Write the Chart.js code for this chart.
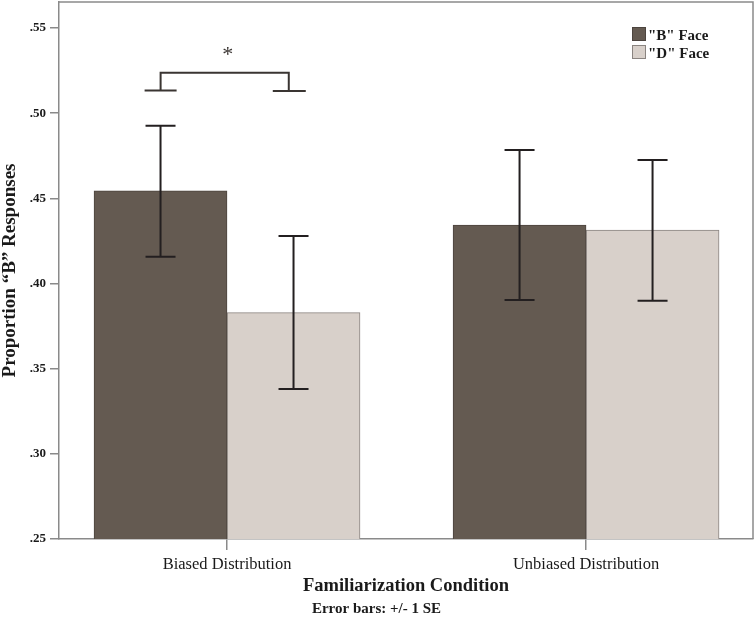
<!DOCTYPE html>
<html>
<head>
<meta charset="utf-8">
<title>Proportion "B" Responses</title>
<script src="https://cdn.jsdelivr.net/npm/chart.js@4.4.1/dist/chart.umd.min.js"></script>
<style>
    html, body { margin: 0; padding: 0; background: #ffffff; }
    #wrap { width: 755px; height: 617px; position: relative; }
</style>
</head>
<body>
<div id="wrap"><canvas id="faceChart"></canvas></div>
<script>
/* ==========================================================================
   FAMILIARIZATION CONDITION — "B" RESPONSES BAR CHART
   ========================================================================== */

// --- DATA ---
const categories = ['Biased Distribution', 'Unbiased Distribution'];
const categoryPos = [1, 2];
const seriesNames = ['"B" Face', '"D" Face'];

const bFaceMean = [0.4545, 0.4343];
const bFaceLow = [0.4157, 0.3903];
const bFaceHigh = [0.4926, 0.4784];

const dFaceMean = [0.3829, 0.4314];
const dFaceLow = [0.3381, 0.3899];
const dFaceHigh = [0.4279, 0.4725];

const yTicks = [0.25, 0.30, 0.35, 0.40, 0.45, 0.50, 0.55];

// significance bracket between the two Biased bars
const bracketX = [0.815, 1.172];
const bracketTop = 0.5238;
const bracketFeet = [0.5134, 0.5130];
const starX = 1.002;
const starY = 0.5339;

const COLORS = {
    bFace: '#645a51',
    dFace: '#d8d0ca',
    bEdge: '#4c443e',
    dEdge: '#8a8480',
    axis: '#8a8a8a',
    ink: '#231f20',
    text: '#1a1a1a'
};
const SERIF = '"Liberation Serif", "Times New Roman", serif';

// --- PLUGINS ---
const frameBox = {
    id: 'frameBox',
    afterDraw(chart) {
        const { ctx, chartArea: a } = chart;
        ctx.save();
        ctx.strokeStyle = COLORS.axis;
        ctx.lineWidth = 1.5;
        ctx.beginPath();
        ctx.moveTo(a.left, a.top);
        ctx.lineTo(a.right, a.top);
        ctx.lineTo(a.right, a.bottom);
        ctx.stroke();
        ctx.restore();
    }
};

const errorBars = {
    id: 'errorBars',
    afterDatasetsDraw(chart) {
        const { ctx } = chart;
        const y = chart.scales.y;
        const bounds = [[bFaceLow, bFaceHigh], [dFaceLow, dFaceHigh]];
        ctx.save();
        ctx.strokeStyle = COLORS.ink;
        ctx.lineWidth = 2;
        chart.data.datasets.forEach(function (ds, di) {
            chart.getDatasetMeta(di).data.forEach(function (bar, i) {
                const top = y.getPixelForValue(bounds[di][1][i]);
                const bot = y.getPixelForValue(bounds[di][0][i]);
                ctx.beginPath();
                ctx.moveTo(bar.x, top); ctx.lineTo(bar.x, bot);
                ctx.moveTo(bar.x - 15, top); ctx.lineTo(bar.x + 15, top);
                ctx.moveTo(bar.x - 15, bot); ctx.lineTo(bar.x + 15, bot);
                ctx.stroke();
            });
        });

        // bracket + asterisk
        const x = chart.scales.x;
        const x0 = x.getPixelForValue(bracketX[0]);
        const x1 = x.getPixelForValue(bracketX[1]);
        const yt = y.getPixelForValue(bracketTop);
        const f0 = y.getPixelForValue(bracketFeet[0]);
        const f1 = y.getPixelForValue(bracketFeet[1]);
        ctx.strokeStyle = '#3a3532';
        ctx.beginPath();
        ctx.moveTo(x0, f0); ctx.lineTo(x0, yt); ctx.lineTo(x1, yt); ctx.lineTo(x1, f1);
        ctx.moveTo(x0 - 16, f0); ctx.lineTo(x0 + 16, f0);
        ctx.moveTo(x1 - 16, f1); ctx.lineTo(x1 + 17, f1);
        ctx.stroke();

        ctx.fillStyle = '#3a3532';
        ctx.font = '22px ' + SERIF;
        ctx.textAlign = 'center';
        ctx.textBaseline = 'middle';
        ctx.fillText('*', x.getPixelForValue(starX), y.getPixelForValue(starY));
        ctx.restore();
    }
};

// legend sits inside the plot, top right
const cornerLegend = {
    id: 'cornerLegend',
    afterDraw(chart) {
        const { ctx, chartArea: a } = chart;
        const left = a.right - 121;
        ctx.save();
        ctx.font = 'bold 15px ' + SERIF;
        ctx.textAlign = 'left';
        ctx.textBaseline = 'alphabetic';
        chart.data.datasets.forEach(function (ds, i) {
            const top = a.top + 25 + i * 18;
            ctx.fillStyle = ds.backgroundColor;
            ctx.fillRect(left, top, 14, 14);
            ctx.strokeStyle = ds.borderColor;
            ctx.lineWidth = 1;
            ctx.strokeRect(left + 0.5, top + 0.5, 13, 13);
            ctx.fillStyle = COLORS.text;
            ctx.fillText(ds.label, left + 16, top + 13);
        });
        ctx.restore();
    }
};

// --- CHART ---
document.addEventListener('DOMContentLoaded', function () {
    const canvas = document.getElementById('faceChart');

    new Chart(canvas.getContext('2d'), {
        type: 'bar',
        data: {
            datasets: [{
                label: seriesNames[0],
                data: categoryPos.map((p, i) => ({ x: p, y: bFaceMean[i] })),
                backgroundColor: COLORS.bFace,
                borderColor: COLORS.bEdge,
                borderWidth: 1,
                barThickness: 133
            }, {
                label: seriesNames[1],
                data: categoryPos.map((p, i) => ({ x: p, y: dFaceMean[i] })),
                backgroundColor: COLORS.dFace,
                borderColor: COLORS.dEdge,
                borderWidth: 1,
                barThickness: 133
            }]
        },
        options: {
            responsive: true,
            maintainAspectRatio: false,
            animation: false,
            layout: { padding: { top: 2, right: 2, left: 0, bottom: 0 } },
            plugins: {
                legend: { display: false },
                tooltip: { enabled: false },
                subtitle: {
                    display: true,
                    position: 'bottom',
                    text: 'Error bars: +/- 1 SE',
                    color: COLORS.text,
                    font: { family: SERIF, size: 15, weight: 'bold', lineHeight: 1.0 },
                    padding: { top: 4, bottom: 0 }
                }
            },
            scales: {
                x: {
                    type: 'linear',
                    min: 0.532,
                    max: 2.465,
                    offset: false,
                    afterBuildTicks: s => { s.ticks = categoryPos.map(v => ({ value: v })); },
                    afterFit: s => { s.height = 59; s.paddingLeft = 0; s.paddingRight = 0; },
                    grid: { display: true, drawOnChartArea: false, drawTicks: true, tickLength: 11, color: COLORS.axis, lineWidth: 1.5, offset: false },
                    border: { display: true, color: COLORS.axis, width: 1.5 },
                    ticks: {
                        padding: 5,
                        color: COLORS.text,
                        font: { family: SERIF, size: 16.5 },
                        maxRotation: 0,
                        autoSkip: false,
                        callback: v => categories[categoryPos.indexOf(v)] || ''
                    },
                    title: {
                        display: true,
                        text: 'Familiarization Condition',
                        color: COLORS.text,
                        font: { family: SERIF, size: 18.5, weight: 'bold', lineHeight: 1.2 },
                        padding: { top: 0, bottom: 0.5 }
                    }
                },
                y: {
                    min: 0.25,
                    max: 0.5653,
                    beginAtZero: false,
                    afterBuildTicks: s => { s.ticks = yTicks.map(v => ({ value: v })); },
                    afterFit: s => { s.width = 59; s.paddingTop = 0; s.paddingBottom = 0; },
                    grid: { display: true, drawOnChartArea: false, drawTicks: true, tickLength: 9, color: COLORS.axis, lineWidth: 1.5 },
                    border: { display: true, color: COLORS.axis, width: 1.5 },
                    ticks: {
                        padding: 4,
                        color: COLORS.text,
                        font: { family: SERIF, size: 13, weight: 'bold' },
                        callback: v => v.toFixed(2).replace(/^0/, '')
                    },
                    title: {
                        display: true,
                        text: 'Proportion \u201CB\u201D Responses',
                        color: COLORS.text,
                        font: { family: SERIF, size: 19, weight: 'bold', lineHeight: 1.1 },
                        padding: { top: 0, bottom: 0 }
                    }
                }
            }
        },
        plugins: [frameBox, errorBars, cornerLegend]
    });
});
</script>
</body>
</html>
